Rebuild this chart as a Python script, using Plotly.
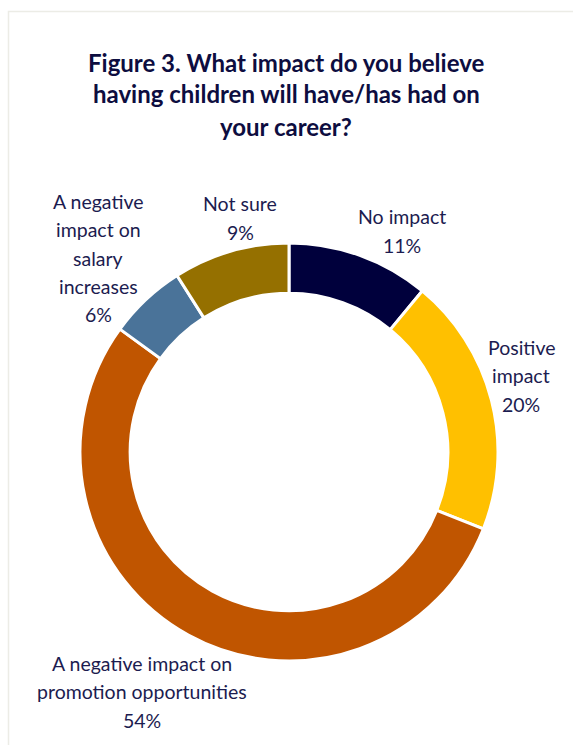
import plotly.graph_objects as go

categories = ["No impact", "Positive impact",
              "A negative impact on promotion opportunities",
              "A negative impact on salary increases", "Not sure"]
values = [11, 20, 54, 6, 9]
colors = ["#00003C", "#FFC000", "#C05500", "#4A7399", "#957000"]

title_lines = ["Figure 3. What impact do you believe",
               "having children will have/has had on",
               "your career?"]

# display wrapping and label placement (pixels: center x, first line y)
wraps = [["No impact"], ["Positive", "impact"],
         ["A negative impact on", "promotion opportunities"],
         ["A negative", "impact on", "salary", "increases"], ["Not sure"]]
label_pos = [(402, 217), (521, 347), (142, 663), (98, 201), (240, 204)]

W, H = 573, 745
cx, cy, R = 289, 452, 209

fig = go.Figure(go.Pie(
    labels=categories, values=values, sort=False, direction="clockwise",
    rotation=0, hole=0.76, textinfo="none", hoverinfo="label+percent",
    marker=dict(colors=colors, line=dict(color="white", width=3)),
    domain=dict(x=[(cx - R) / W, (cx + R) / W],
                y=[(H - cy - R) / H, (H - cy + R) / H]),
    showlegend=False,
))

ann = []
for i, t in enumerate(title_lines):
    ann.append(dict(x=286 / W, y=1 - (62 + 32 * i) / H, xref="paper", yref="paper",
                    text="<b>%s</b>" % t, showarrow=False, xanchor="center",
                    yanchor="middle",
                    font=dict(family="Lato", size=24, color="#0D0D40")))
for lines, v, (px, py) in zip(wraps, values, label_pos):
    allines = lines + ["%d%%" % v]
    for j, t in enumerate(allines):
        ann.append(dict(x=px / W, y=1 - (py + 28.5 * j) / H, xref="paper",
                        yref="paper", text=t, showarrow=False, xanchor="center",
                        yanchor="middle",
                        font=dict(family="Lato", size=19.5, color="#1C1C50")))

fig.update_layout(
    width=W, height=H, margin=dict(l=0, r=0, t=0, b=0),
    paper_bgcolor="white", plot_bgcolor="white",
    annotations=ann,
    shapes=[dict(type="rect", xref="paper", yref="paper",
                 x0=8.5 / W, x1=1.02, y0=-0.02, y1=1 - 11.5 / H,
                 line=dict(color="#ECECE6", width=1.5))],
)
fig.write_html("out.html")
